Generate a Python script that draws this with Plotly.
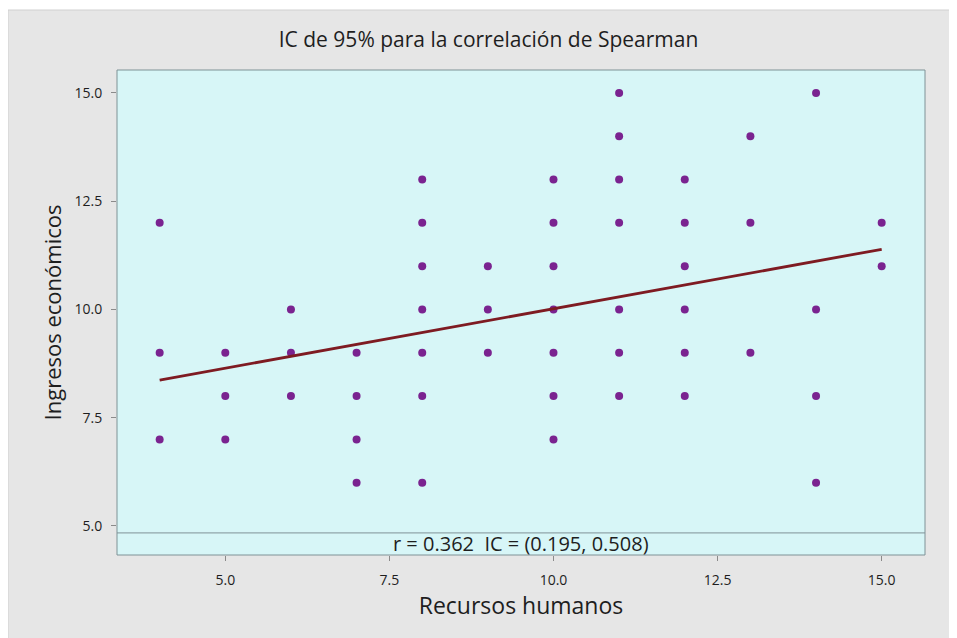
import plotly.graph_objects as go

# Data
recursos_humanos = [4, 4, 4,
                    5, 5, 5,
                    6, 6, 6,
                    7, 7, 7, 7,
                    8, 8, 8, 8, 8, 8, 8,
                    9, 9, 9,
                    10, 10, 10, 10, 10, 10, 10,
                    11, 11, 11, 11, 11, 11, 11,
                    12, 12, 12, 12, 12, 12,
                    13, 13, 13,
                    14, 14, 14, 14,
                    15, 15]
ingresos_economicos = [12, 9, 7,
                       9, 8, 7,
                       10, 9, 8,
                       9, 8, 7, 6,
                       13, 12, 11, 10, 9, 8, 6,
                       11, 10, 9,
                       13, 12, 11, 10, 9, 8, 7,
                       15, 14, 13, 12, 10, 9, 8,
                       13, 12, 11, 10, 9, 8,
                       14, 12, 9,
                       15, 10, 8, 6,
                       12, 11]
fit_x = [4, 15]
fit_y = [8.37, 11.39]
x_ticks = [5.0, 7.5, 10.0, 12.5, 15.0]
y_ticks = [5.0, 7.5, 10.0, 12.5, 15.0]
title_text = "IC de 95% para la correlación de Spearman"
annot_text = "r = 0.362  IC = (0.195, 0.508)"
band_y = 4.84

FONT = "Open Sans"
TXT = "#1e1e1e"
W, H = 957, 638
L, R, T, B = 109, 40, 62, 91
pw = W - L - R
ph = H - T - B

fig = go.Figure()
fig.add_trace(go.Scatter(
    x=recursos_humanos, y=ingresos_economicos, mode="markers",
    marker=dict(color="#7A2390", size=8),
    showlegend=False, hoverinfo="x+y"))
fig.add_trace(go.Scatter(
    x=fit_x, y=fit_y, mode="lines",
    line=dict(color="#7E1B22", width=2.8),
    showlegend=False))

def fx(p):
    return (p - L) / pw

def fy(p):
    return (H - B - p) / ph

shapes = [
    dict(type="rect", xref="paper", yref="paper",
         x0=fx(0), x1=fx(W + 4), y0=fy(H + 4), y1=fy(2),
         fillcolor="#E6E6E6", line=dict(color="#D0D0D0", width=1), layer="below"),
    dict(type="rect", xref="paper", yref="paper", x0=0, x1=1, y0=0, y1=1,
         fillcolor="#D7F6F7", line=dict(color="#7F9296", width=1), layer="below"),
    dict(type="line", xref="paper", yref="y", x0=0, x1=1, y0=band_y, y1=band_y,
         line=dict(color="#7F9296", width=1), layer="above"),
]

fig.update_layout(
    width=W, height=H,
    margin=dict(l=L, r=R, t=T, b=B),
    paper_bgcolor="white",
    plot_bgcolor="#D7F6F7",
    font=dict(family=FONT, color=TXT),
    title=dict(text=title_text, x=480.5 / W, xref="container", xanchor="center",
               y=1 - 32 / H, yref="container", yanchor="middle",
               font=dict(size=21, family=FONT, color=TXT)),
    shapes=shapes,
    annotations=[dict(text=annot_text, xref="paper", x=0.5, yref="y",
                      y=4.585, showarrow=False, xanchor="center", yanchor="middle",
                      font=dict(size=20, family=FONT, color=TXT))],
    xaxis=dict(range=[3.35, 15.66], tickvals=x_ticks, tickformat=".1f",
               showgrid=False, zeroline=False, showline=False,
               ticks="outside", ticklen=5, tickcolor="#8a8a8a",
               ticklabelstandoff=7,
               tickfont=dict(size=14, family=FONT, color=TXT),
               title=dict(text="Recursos humanos", standoff=1,
                          font=dict(size=23, family=FONT, color=TXT))),
    yaxis=dict(range=[4.33, 15.53], tickvals=y_ticks, tickformat=".1f",
               showgrid=False, zeroline=False, showline=False,
               ticks="outside", ticklen=5, tickcolor="#8a8a8a",
               ticklabelstandoff=6,
               tickfont=dict(size=14, family=FONT, color=TXT),
               title=dict(text="Ingresos económicos", standoff=6,
                          font=dict(size=22, family=FONT, color=TXT))),
)

fig.write_html("out.html")
